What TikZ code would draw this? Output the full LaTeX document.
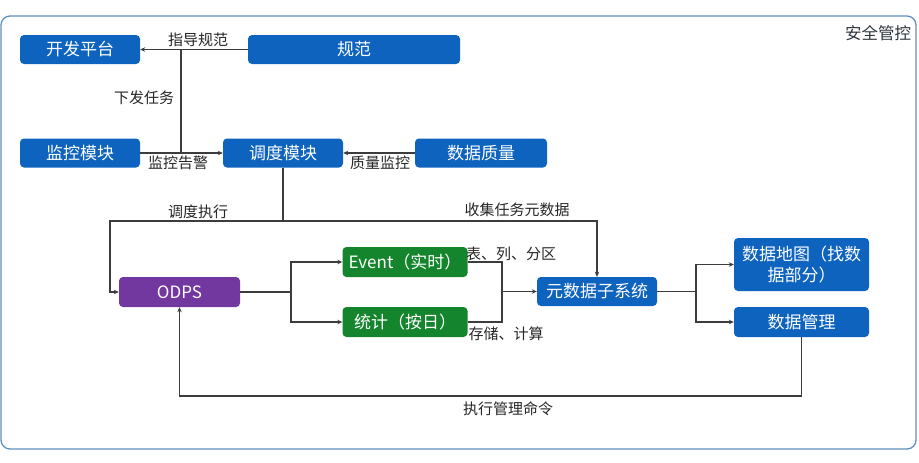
\documentclass[tikz,border=0pt]{standalone}
\usepackage{fontspec}
\setmainfont{Noto Sans CJK SC}
\usetikzlibrary{arrows.meta}
\definecolor{boxblue}{HTML}{0E63BE}
\definecolor{boxpurple}{HTML}{7338A0}
\definecolor{boxgreen}{HTML}{14852C}
\definecolor{framecol}{HTML}{5E8FC2}
\definecolor{linecol}{HTML}{3C3C3C}
\definecolor{txtcol}{HTML}{262626}
\tikzset{
  bx/.style={rectangle, rounded corners=4pt, inner sep=0pt, text=white,
    font=\fontsize{17}{20}\selectfont, align=center},
  bluebox/.style={bx, fill=boxblue},
  purplebox/.style={bx, fill=boxpurple},
  greenbox/.style={bx, fill=boxgreen},
  lbl/.style={inner sep=0pt, text=txtcol, font=\fontsize{15}{18}\selectfont},
  ln/.style={draw=linecol, line width=1.1pt},
  arr/.style={ln, -{Stealth[length=5pt,width=4.5pt]}},
}
\begin{document}
\begin{tikzpicture}[x=1pt,y=-1pt]
\useasboundingbox[fill=white] (0,0) rectangle (919,463);
\draw[framecol, line width=1.3pt, rounded corners=9pt] (1,16) rectangle (916,449);
\node[inner sep=0pt, text=txtcol!85!framecol, font=\fontsize{16.5}{19}\selectfont] (aq) at (878,33) {安全管控};

% nodes
\node[bluebox, minimum width=120pt, minimum height=29pt] (kf) at (80,49.5) {开发平台};
\node[bluebox, minimum width=212pt, minimum height=29pt] (gf) at (354,49.5) {规范};
\node[bluebox, minimum width=120pt, minimum height=29pt] (jk) at (80,153) {监控模块};
\node[bluebox, minimum width=120pt, minimum height=29pt] (dd) at (283,153) {调度模块};
\node[bluebox, minimum width=132pt, minimum height=29pt] (zl) at (481,153) {数据质量};
\node[purplebox, minimum width=121pt, minimum height=30pt] (odps) at (179.5,292) {ODPS};
\node[greenbox, minimum width=125pt, minimum height=30pt] (ev) at (405,262) {Event（实时）};
\node[greenbox, minimum width=125pt, minimum height=30pt] (tj) at (405,322) {统计（按日）};
\node[bluebox, minimum width=120pt, minimum height=29pt] (meta) at (597,291.5) {元数据子系统};
\node[bluebox, minimum width=135pt, minimum height=53pt, font=\fontsize{17}{21}\selectfont] (map) at (801.5,264.5) {数据地图（找数\\据部分）};
\node[bluebox, minimum width=135pt, minimum height=30pt] (mg) at (801.5,322) {数据管理};

% junctions
\coordinate (j1) at (181,49.5);
\coordinate (j2) at (181,153);
\coordinate (c1) at (110,221);
\coordinate (c2) at (597,221);
\coordinate (c3) at (291,292);
\coordinate (c4) at (502,291.5);
\coordinate (c5) at (696,291.5);
\coordinate (c6) at (179.5,396);

% connectors
\draw[arr] (gf.west) -- (kf.east);
\draw[ln] (j1) -- (j2);
\draw[arr] (jk.east) -- (dd.west);
\draw[arr] (zl.west) -- (dd.east);
\draw[arr] (dd.south) |- (c1) |- (odps.west);
\draw[arr] (dd.south) |- (c2) -- (meta.north);
\draw[ln] (odps.east) -- (c3);
\draw[arr] (c3) |- (ev.west);
\draw[arr] (c3) |- (tj.west);
\draw[ln] (ev.east) -| (c4);
\draw[ln] (tj.east) -| (c4);
\draw[arr] (c4) -- (meta.west);
\draw[ln] (meta.east) -- (c5);
\draw[arr] (c5) |- (map.west);
\draw[arr] (c5) |- (mg.west);
\draw[arr] (mg.south) |- (c6) -- (odps.south);

% labels
\node[lbl] (l1) at (198,40) {指导规范};
\node[lbl] (l2) at (144,98) {下发任务};
\node[lbl] (l3) at (178,163) {监控告警};
\node[lbl] (l4) at (380,163) {质量监控};
\node[lbl] (l5) at (198,212) {调度执行};
\node[lbl] (l6) at (517,210) {收集任务元数据};
\node[lbl] (l7) at (511,254) {表、列、分区};
\node[lbl] (l8) at (506,334) {存储、计算};
\node[lbl] (l9) at (508,409) {执行管理命令};
\end{tikzpicture}
\end{document}
